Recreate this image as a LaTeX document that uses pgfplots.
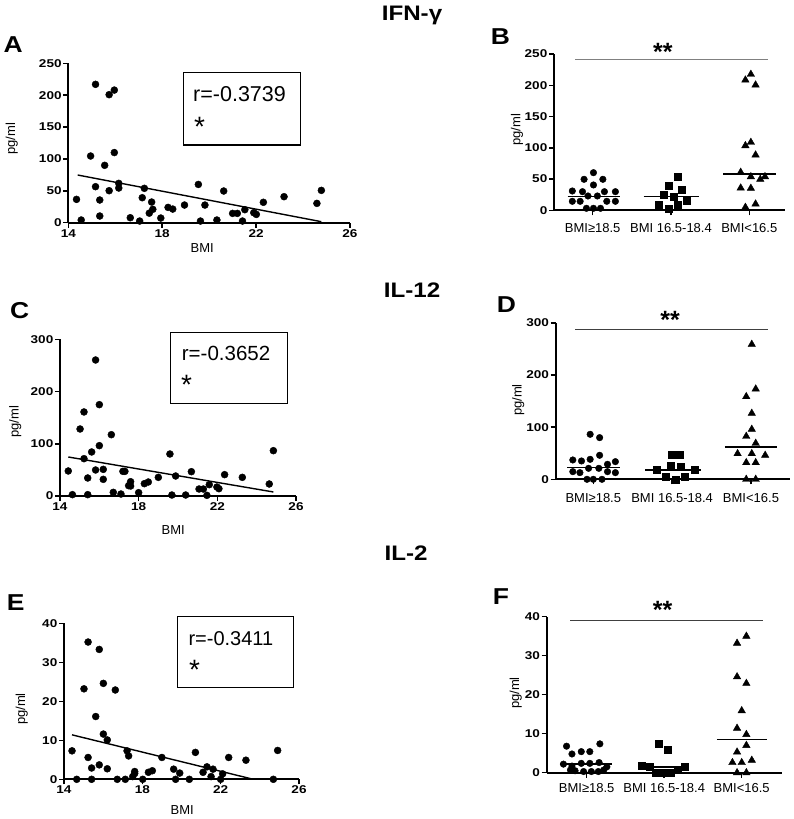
\documentclass[border=0pt]{standalone}
\usepackage{fontspec}
\setmainfont{Liberation Sans}
\newfontfamily\tickfont{Liberation Sans}[FakeStretch=1.2]
\newfontfamily\letterfont{Liberation Sans}[FakeStretch=1.15]
\usepackage{pgfplots}
\pgfplotsset{compat=1.18}
\pgfplotsset{
  prism/.style={
    scale only axis, anchor=south west, clip=false, enlargelimits=false,
    axis x line*=bottom, axis y line*=left,
    axis line style={-, line width=1.9pt},
    tick style={line width=1.5pt, black},
    tick align=outside, major tick length=5pt,
    ticklabel style={font=\tickfont\bfseries\fontsize{11.3}{13}\selectfont, inner sep=1.5pt},
    /pgf/number format/assume math mode=true,
    minor tick num=0,
  },
  scat/.style={prism, xmin=14, xmax=26, xtick={14,18,22,26}, ymin=0},
  cat/.style={prism, xtick={0,1,2}, xticklabels={BMI≥18.5, BMI 16.5-18.4, BMI<16.5},
    xticklabel style={font=\normalfont\fontsize{13}{15}\selectfont, inner sep=2pt}, ymin=0},
  dot/.style={only marks, mark=*, mark size=3.5pt, black},
  sq/.style={only marks, mark=square*, mark size=3.5pt, black},
  tri/.style={only marks, mark=triangle*, mark size=4.3pt, black},
  med/.style={line width=1.7pt, black},
  reg/.style={line width=1.4pt, black},
}
\newcommand{\lab}[1]{{\fontsize{13}{15}\selectfont #1}}
\begin{document}
\begin{tikzpicture}
\path[use as bounding box] (0pt,0pt) rectangle (793pt,-819pt);
% ---------- titles ----------
\node[font=\letterfont\bfseries\fontsize{21}{24}\selectfont] at (412pt,-15pt) {IFN-γ};
\node[font=\letterfont\bfseries\fontsize{21}{24}\selectfont] at (412pt,-290pt) {IL-12};
\node[font=\letterfont\bfseries\fontsize{21}{24}\selectfont] at (406pt,-553pt) {IL-2};
% ---------- panel letters ----------
\node[anchor=base west, inner sep=0pt, font=\letterfont\bfseries\fontsize{23}{26}\selectfont] at (3.3pt,-52pt) {A};
\node[anchor=base west, inner sep=0pt, font=\letterfont\bfseries\fontsize{23}{26}\selectfont] at (10pt,-318pt) {C};
\node[anchor=base west, inner sep=0pt, font=\letterfont\bfseries\fontsize{23}{26}\selectfont] at (6.7pt,-610pt) {E};
\node[anchor=base west, inner sep=0pt, font=\letterfont\bfseries\fontsize{23}{26}\selectfont] at (490.7pt,-44pt) {B};
\node[anchor=base west, inner sep=0pt, font=\letterfont\bfseries\fontsize{23}{26}\selectfont] at (496.7pt,-312pt) {D};
\node[anchor=base west, inner sep=0pt, font=\letterfont\bfseries\fontsize{23}{26}\selectfont] at (492.7pt,-604pt) {F};
% ---------- axis labels ----------
\node[rotate=90] at (11.7pt,-139pt) {\lab{pg/ml}};
\node[rotate=90] at (15.3pt,-421.7pt) {\lab{pg/ml}};
\node[rotate=90] at (21.7pt,-709pt) {\lab{pg/ml}};
\node[rotate=90] at (517pt,-130pt) {\lab{pg/ml}};
\node[rotate=90] at (518.3pt,-400pt) {\lab{pg/ml}};
\node[rotate=90] at (515.8pt,-693pt) {\lab{pg/ml}};
\node at (202.3pt,-248.3pt) {\lab{BMI}};
\node at (173.3pt,-530pt) {\lab{BMI}};
\node at (182.3pt,-810.5pt) {\lab{BMI}};
% ---------- r boxes ----------
\draw[line width=1.3pt] (183.3pt,-72.7pt) rectangle (300.7pt,-145pt);
\node[anchor=base west, inner sep=0pt, font=\fontsize{21.5}{24}\selectfont] at (193pt,-101.7pt) {r=-0.3739};
\node[anchor=base west, inner sep=0pt, font=\fontsize{28}{30}\selectfont] at (194pt,-136pt) {*};
\draw[line width=1.3pt] (170.7pt,-332.7pt) rectangle (287.3pt,-403.3pt);
\node[anchor=base west, inner sep=0pt, font=\fontsize{20.5}{24}\selectfont] at (181.7pt,-360.7pt) {r=-0.3652};
\node[anchor=base west, inner sep=0pt, font=\fontsize{28}{30}\selectfont] at (181pt,-394.5pt) {*};
\draw[line width=1.3pt] (177.7pt,-616.7pt) rectangle (293.3pt,-687.7pt);
\node[anchor=base west, inner sep=0pt, font=\fontsize{20}{24}\selectfont] at (188.3pt,-645pt) {r=-0.3411};
\node[anchor=base west, inner sep=0pt, font=\fontsize{28}{30}\selectfont] at (189pt,-679.5pt) {*};
% ---------- significance ----------
\draw[line width=1pt, gray] (575pt,-59.3pt) -- (768pt,-59.3pt);
\node[anchor=base, inner sep=0pt, font=\bfseries\fontsize{25}{27}\selectfont] at (662.8pt,-60.5pt) {**};
\draw[line width=1pt, black!75] (575pt,-329.3pt) -- (768pt,-329.3pt);
\node[anchor=base, inner sep=0pt, font=\bfseries\fontsize{25}{27}\selectfont] at (670pt,-328pt) {**};
\draw[line width=1pt, black!75] (570pt,-620pt) -- (763.3pt,-620pt);
\node[anchor=base, inner sep=0pt, font=\bfseries\fontsize{25}{27}\selectfont] at (662.7pt,-618pt) {**};

% ================= A =================
\begin{axis}[scat, at={(68.3pt,-222.7pt)}, width=281.7pt, height=159.4pt,
  ymax=250, ytick={0,50,100,150,200,250}]
\addplot[dot] coordinates {
(14.35,36.6) (14.55,4.2) (14.95,104.6) (15.16,217) (15.16,56.5) (15.34,35.6)
(15.34,10.5) (15.55,90) (15.74,200.8) (15.74,50.2) (15.96,208) (15.96,110)
(16.15,61.7) (16.15,54.4) (16.64,7.8) (17.04,2.6) (17.15,39.2) (17.24,53.9)
(17.55,32.4) (17.6,21) (17.45,15) (17.94,7.3) (18.25,24) (18.45,21.4)
(18.95,27.7) (19.54,60) (19.63,2.6) (19.82,27.7) (20.33,4.2) (20.62,49.7)
(21.0,14.6) (21.2,14.6) (21.42,2.6) (21.52,20.4) (21.9,15.7) (22.01,13)
(22.31,32) (23.19,40.8) (24.59,30.3) (24.78,50.7)};
\addplot[reg] coordinates {(14.4,74.8) (24.78,1.6)};
\end{axis}

% ================= C =================
\begin{axis}[scat, at={(60pt,-496pt)}, width=236pt, height=156.7pt,
  ymax=300, ytick={0,100,200,300}]
\addplot[dot] coordinates {
(14.42,47.9) (14.63,2.6) (15.02,128.3) (15.22,160.9) (15.22,71.5) (15.41,34.5)
(15.41,2.6) (15.61,84.3) (15.81,260.4) (15.81,49.8) (16.0,174.9) (16.0,96.4)
(16.2,51) (16.2,31.9) (16.61,117.4) (16.71,7) (17.1,3.8) (17.2,47.2)
(17.3,47.2) (17.49,19.8) (17.59,27.4) (17.59,19.1) (18.0,6.4) (18.29,23.6)
(18.49,26.8) (19.0,35.7) (19.59,80.4) (19.69,1.9) (19.88,38.3) (20.39,1.9)
(20.68,46.6) (21.07,13.4) (21.29,13.4) (21.47,1.3) (21.59,21.7) (21.98,17.2)
(22.08,14) (22.37,40.9) (23.27,35.7) (24.64,23) (24.85,86.8)};
\addplot[reg] coordinates {(14.42,74.7) (24.85,7.7)};
\end{axis}

% ================= E =================
\begin{axis}[scat, at={(64pt,-779.3pt)}, width=235pt, height=156pt,
  ymax=40, ytick={0,10,20,30,40}]
\addplot[dot] coordinates {
(14.41,7.3) (14.65,0) (15.02,23.2) (15.23,35.2) (15.23,5.6) (15.41,2.9)
(15.41,0) (15.62,16.1) (15.8,33.3) (15.8,3.7) (16.01,24.6) (16.01,11.6)
(16.21,10.1) (16.21,2.7) (16.62,22.9) (16.72,0) (17.13,0) (17.22,7.3)
(17.3,6.0) (17.51,0.7) (17.61,2.0) (17.61,1.5) (18.02,0) (18.31,1.8)
(18.51,2.2) (19.0,5.6) (19.6,2.6) (19.7,0) (19.91,1.6) (20.4,0)
(20.71,6.9) (21.1,1.8) (21.3,3.2) (21.51,0.7) (21.61,2.6) (22.0,0)
(22.1,1.4) (22.41,5.6) (23.29,4.9) (24.69,0) (24.91,7.4)};
\addplot[reg] coordinates {(14.41,11.4) (23.67,0)};
\end{axis}

% ================= B =================
\begin{axis}[cat, at={(554pt,-210.3pt)}, width=231pt, height=156.3pt,
  xmin=-0.494, xmax=2.456, ymax=250, ytick={0,50,100,150,200,250},
  xticklabel style={yshift=-6pt}]
\addplot[dot, mark size=3.3pt] coordinates {
(0.01,60.2) (-0.11,49.6) (0.13,49.6) (0.01,40.5) (-0.26,30.9) (-0.13,29.8)
(0.15,29.8) (0.29,29.8) (-0.06,22.9) (0.06,22.9) (-0.26,14.4) (-0.16,14.4)
(0.18,14.4) (0.29,14.4) (-0.08,3.2) (0.01,3.2) (0.1,3.2)};
\addplot[sq] coordinates {
(1.09,53.8) (0.97,39.4) (1.14,33) (0.91,24.5) (1.03,21.9) (1.2,15.5)
(0.84,8.5) (1.09,8.5) (0.97,2.7)};
\addplot[tri] coordinates {
(2.02,217.5) (1.95,208.4) (2.08,200.4) (2.02,108.7) (1.95,103.4) (2.08,88.5)
(1.89,60.8) (2.02,53.8) (2.14,49.6) (2.2,53.8) (1.89,35.7) (2.02,35.2)
(2.08,10.1) (1.95,4.8)};
\addplot[med] coordinates {(-0.32,21.9) (0.35,21.9)};
\addplot[med] coordinates {(0.65,21.9) (1.36,21.9)};
\addplot[med] coordinates {(1.67,58.6) (2.34,58.6)};
\end{axis}

% ================= D =================
\begin{axis}[cat, at={(555.7pt,-479.3pt)}, width=234.3pt, height=156.3pt,
  xmin=-0.477, xmax=2.495, ymax=300, ytick={0,100,200,300},
  xticklabel style={yshift=-7pt}]
\addplot[dot, mark size=3.3pt] coordinates {
(-0.04,86.4) (0.08,80) (-0.26,37.1) (-0.15,35.2) (-0.04,38.4) (0.08,46.1)
(0.18,28.8) (0.28,33.9) (-0.26,14.7) (-0.17,12.8) (-0.06,21.1) (0.07,21.1)
(0.18,14.7) (0.28,12.8) (-0.08,0) (0,0) (0.11,0)};
\addplot[sq] coordinates {
(0.99,46.7) (1.1,46.7) (0.98,26.2) (1.11,24.3) (0.8,17.9) (1.29,17.9)
(0.92,5.1) (1.16,5.1) (1.04,0)};
\addplot[tri] coordinates {
(2.01,259) (2.06,173.4) (1.94,158.7) (2.01,126.7) (2.01,96) (1.94,82.5)
(2.06,69.1) (1.83,49.3) (2.01,49.3) (2.18,46.1) (1.94,32) (2.06,32)
(1.94,0) (2.06,0)};
\addplot[med] coordinates {(-0.33,22.4) (0.34,22.4)};
\addplot[med] coordinates {(0.66,17.9) (1.37,17.9)};
\addplot[med] coordinates {(1.67,61.4) (2.33,61.4)};
\end{axis}

% ================= F =================
\begin{axis}[cat, at={(546.7pt,-772.7pt)}, width=235pt, height=156pt,
  xmin=-0.516, xmax=2.516, ymax=40, ytick={0,10,20,30,40},
  xticklabel style={yshift=-4pt}]
\addplot[dot, mark size=3.3pt] coordinates {
(-0.26,6.8) (0.17,7.4) (-0.19,4.8) (-0.07,5.4) (0.04,5.4) (-0.3,2.2)
(-0.19,1.7) (-0.07,2.4) (0.04,2.4) (0.16,2.6) (0.26,1.5) (-0.15,0.5)
(-0.04,0.3) (0.06,0.3) (0.15,0.3) (-0.21,0.7) (0.22,0.7)};
\addplot[sq] coordinates {
(0.93,7.4) (1.05,5.8) (0.71,1.8) (0.81,1.5) (1.26,1.5) (0.89,0)
(0.99,0) (1.08,0) (1.17,0.7)};
\addplot[tri] coordinates {
(2.06,35) (1.94,33.2) (1.94,24.6) (2.06,22.9) (2.0,15.9) (1.94,11.4)
(2.06,9.8) (2.06,7) (1.94,5.3) (1.88,2.6) (2.0,2.6) (2.13,3.2)
(1.94,0) (2.06,0)};
\addplot[med] coordinates {(-0.34,2.2) (0.32,2.2)};
\addplot[med] coordinates {(0.66,1.5) (1.3,1.5)};
\addplot[med] coordinates {(1.68,8.5) (2.33,8.5)};
\end{axis}
\end{tikzpicture}
\end{document}
